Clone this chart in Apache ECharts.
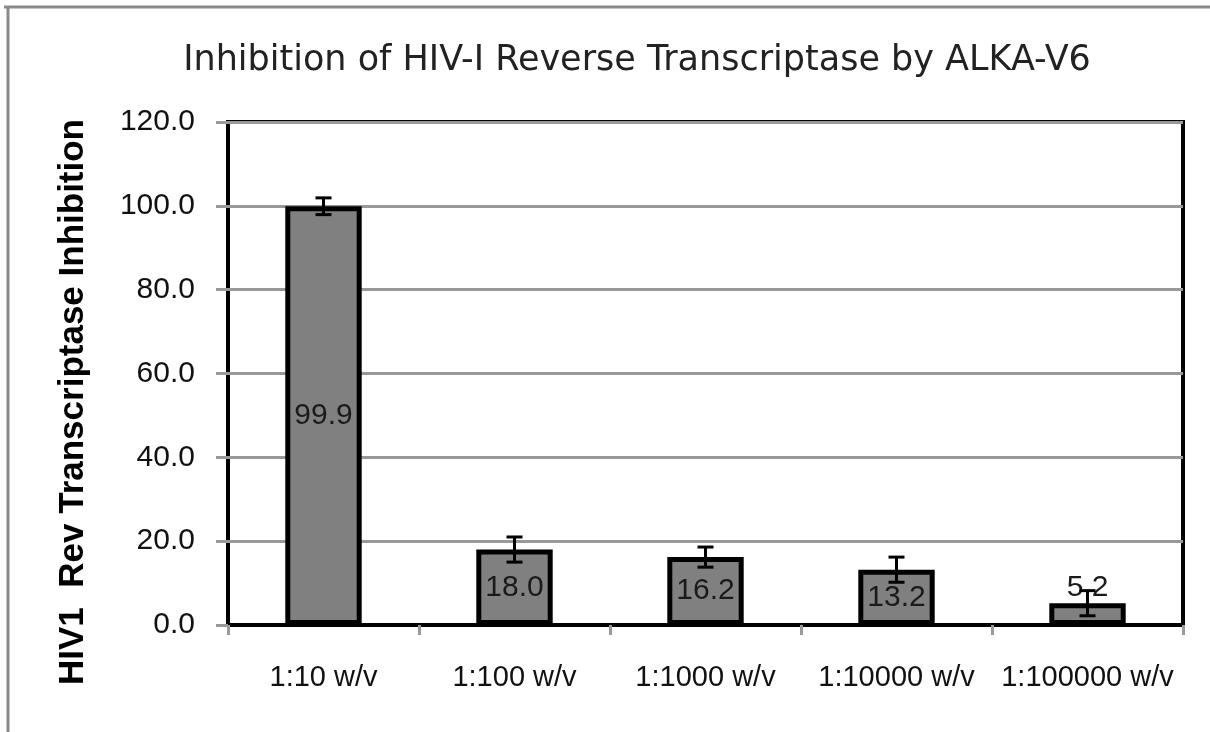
<!DOCTYPE html>
<html>
<head>
<meta charset="utf-8">
<script src="https://cdn.jsdelivr.net/npm/echarts@6/dist/echarts.min.js"></script>
<style>
  html, body { margin: 0; padding: 0; background: #fff; }
  #chart { width: 1210px; height: 732px; }
</style>
</head>
<body>
<div id="chart"></div>
<script>
const categories = ["1:10 w/v", "1:100 w/v", "1:1000 w/v", "1:10000 w/v", "1:100000 w/v"];
const inhibition = [99.9, 18.0, 16.2, 13.2, 5.2];
const errorSize = [2.0, 3.0, 2.4, 3.0, 3.0];
const yTicks = { min: 0, max: 120, interval: 20 };

const chart = echarts.init(document.getElementById("chart"));

const barData = inhibition.map((v) => {
  // the smallest bar is too short for its label, so it sits on top
  if (v < 8) {
    return { value: v, label: { position: "top", distance: 0 } };
  }
  return v;
});
const errorData = inhibition.map((v, i) => [i, v - errorSize[i], v + errorSize[i]]);

const option = {
  animation: false,
  title: {
    text: "Inhibition of HIV-I Reverse Transcriptase by ALKA-V6",
    left: 632,
    top: 38,
    textAlign: "center",
    textStyle: {
      fontFamily: "DejaVu Sans",
      fontWeight: "normal",
      fontSize: 35,
      color: "#222",
    },
  },
  graphic: [
    {
      type: "line",
      shape: { x1: 4, y1: 7, x2: 1210, y2: 7 },
      style: { stroke: "#8a8a8a", lineWidth: 3 },
    },
    {
      type: "line",
      shape: { x1: 8, y1: 7, x2: 8, y2: 732 },
      style: { stroke: "#8a8a8a", lineWidth: 3 },
    },
    {
      type: "text",
      x: 73,
      y: 402,
      rotation: Math.PI / 2,
      style: {
        text: "HIV1  Rev Transcriptase Inhibition",
        fontFamily: "Liberation Sans",
        fontWeight: "bold",
        fontSize: 35,
        fill: "#000",
        align: "center",
        verticalAlign: "middle",
      },
    },
  ],
  grid: {
    left: 228,
    right: 27,
    top: 122,
    bottom: 107,
    show: true,
    borderColor: "#000",
    borderWidth: 4,
  },
  xAxis: {
    type: "category",
    data: categories,
    axisLine: { lineStyle: { color: "#000", width: 4 } },
    axisTick: { show: true, length: 10, lineStyle: { color: "#999", width: 3 } },
    axisLabel: {
      interval: 0,
      hideOverlap: false,
      margin: 38,
      fontFamily: "Liberation Sans",
      fontSize: 29,
      color: "#111",
    },
  },
  yAxis: {
    type: "value",
    min: yTicks.min,
    max: yTicks.max,
    interval: yTicks.interval,
    axisLine: { show: false },
    axisTick: { show: true, length: 12, lineStyle: { color: "#999", width: 3 } },
    axisLabel: {
      margin: 33,
      fontFamily: "Liberation Sans",
      fontSize: 30,
      color: "#111",
      formatter: (v) => v.toFixed(1),
    },
    splitLine: { lineStyle: { color: "#999", width: 3 } },
  },
  series: [
    {
      type: "bar",
      data: barData,
      barWidth: "40%",
      itemStyle: {
        color: "#808080",
        borderColor: "#000",
        borderWidth: 5,
      },
      label: {
        show: true,
        position: "inside",
        fontFamily: "Liberation Sans",
        fontSize: 30,
        color: "#1a1a1a",
        formatter: (p) => p.value.toFixed(1),
      },
    },
    {
      type: "custom",
      data: errorData,
      z: 3,
      renderItem: (params, api) => {
        const low = api.coord([api.value(0), api.value(1)]);
        const high = api.coord([api.value(0), api.value(2)]);
        const half = 8;
        const style = { stroke: "#000", lineWidth: 3 };
        return {
          type: "group",
          children: [
            { type: "line", shape: { x1: low[0], y1: low[1], x2: high[0], y2: high[1] }, style },
            { type: "line", shape: { x1: high[0] - half, y1: high[1], x2: high[0] + half, y2: high[1] }, style },
            { type: "line", shape: { x1: low[0] - half, y1: low[1], x2: low[0] + half, y2: low[1] }, style },
          ],
        };
      },
    },
  ],
};

chart.setOption(option);
</script>
</body>
</html>
